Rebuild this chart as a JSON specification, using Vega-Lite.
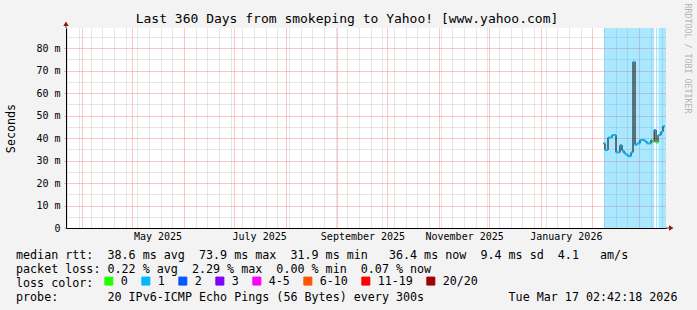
{
  "$schema": "https://vega.github.io/schema/vega-lite/v6.json",
  "width": 600,
  "height": 200,
  "autosize": {"type": "none"},
  "padding": {"left": 66, "top": 28, "right": 31, "bottom": 82},
  "background": "#f3f3f3",
  "config": {
    "view": {"stroke": null, "fill": "#ffffff"},
    "font": "DejaVu Sans Mono"
  },
  "title": {
    "text": "Last 360 Days from smokeping to Yahoo! [www.yahoo.com]",
    "font": "DejaVu Sans Mono",
    "fontSize": 13,
    "fontWeight": "normal",
    "color": "#000000",
    "anchor": "middle",
    "frame": "group",
    "dx": -19,
    "baseline": "alphabetic",
    "offset": -33
  },
  "datasets": {
    "median": [
      {"start": "2026-02-07T07:30:00Z", "end": "2026-02-08T12:18:00Z", "median_s": 0.0376, "loss": "1"},
      {"start": "2026-02-08T12:18:00Z", "end": "2026-02-10T07:30:00Z", "median_s": 0.0347, "loss": "1"},
      {"start": "2026-02-10T07:30:00Z", "end": "2026-02-12T17:06:00Z", "median_s": 0.0402, "loss": "1"},
      {"start": "2026-02-12T17:06:00Z", "end": "2026-02-15T02:42:00Z", "median_s": 0.0413, "loss": "1"},
      {"start": "2026-02-15T02:42:00Z", "end": "2026-02-17T12:18:00Z", "median_s": 0.0336, "loss": "1"},
      {"start": "2026-02-17T12:18:00Z", "end": "2026-02-18T17:06:00Z", "median_s": 0.0369, "loss": "1"},
      {"start": "2026-02-18T17:06:00Z", "end": "2026-02-19T21:54:00Z", "median_s": 0.0344, "loss": "1"},
      {"start": "2026-02-19T21:54:00Z", "end": "2026-02-21T02:42:00Z", "median_s": 0.0332, "loss": "1"},
      {"start": "2026-02-21T02:42:00Z", "end": "2026-02-22T07:30:00Z", "median_s": 0.0326, "loss": "1"},
      {"start": "2026-02-22T07:30:00Z", "end": "2026-02-24T02:42:00Z", "median_s": 0.0319, "loss": "1"},
      {"start": "2026-02-24T02:42:00Z", "end": "2026-02-25T07:30:00Z", "median_s": 0.0336, "loss": "1"},
      {"start": "2026-02-25T07:30:00Z", "end": "2026-02-26T12:18:00Z", "median_s": 0.0739, "loss": "1"},
      {"start": "2026-02-26T12:18:00Z", "end": "2026-02-27T17:06:00Z", "median_s": 0.0370, "loss": "1"},
      {"start": "2026-02-27T17:06:00Z", "end": "2026-03-01T12:18:00Z", "median_s": 0.0376, "loss": "1"},
      {"start": "2026-03-01T12:18:00Z", "end": "2026-03-04T12:18:00Z", "median_s": 0.0391, "loss": "1"},
      {"start": "2026-03-04T12:18:00Z", "end": "2026-03-05T17:06:00Z", "median_s": 0.0384, "loss": "1"},
      {"start": "2026-03-05T17:06:00Z", "end": "2026-03-08T02:42:00Z", "median_s": 0.0376, "loss": "1"},
      {"start": "2026-03-08T02:42:00Z", "end": "2026-03-08T17:06:00Z", "median_s": 0.0391, "loss": "1"},
      {"start": "2026-03-08T17:06:00Z", "end": "2026-03-10T00:47:00Z", "median_s": 0.0384, "loss": "0"},
      {"start": "2026-03-10T00:47:00Z", "end": "2026-03-11T02:42:00Z", "median_s": 0.0436, "loss": "1"},
      {"start": "2026-03-11T02:42:00Z", "end": "2026-03-12T07:30:00Z", "median_s": 0.0380, "loss": "0"},
      {"start": "2026-03-12T07:30:00Z", "end": "2026-03-14T02:42:00Z", "median_s": 0.0413, "loss": "1"},
      {"start": "2026-03-14T02:42:00Z", "end": "2026-03-15T07:30:00Z", "median_s": 0.0428, "loss": "1"},
      {"start": "2026-03-15T07:30:00Z", "end": "2026-03-16T12:18:00Z", "median_s": 0.0453, "loss": "1"}
    ],
    "band": [
      {"start": "2026-02-07T21:54:00Z", "end": "2026-03-10T00:47:00Z", "loss": "1"},
      {"start": "2026-03-11T02:42:00Z", "end": "2026-03-11T21:25:00Z", "loss": "1"},
      {"start": "2026-03-12T14:42:00Z", "end": "2026-03-17T02:42:00Z", "loss": "1"}
    ]
  },
  "layer": [
    {
      "layer": [
        {
          "data": {"name": "band"},
          "mark": {"type": "rect", "opacity": 0.33},
          "encoding": {
            "x": {
              "field": "start",
              "type": "temporal",
              "scale": {
                "type": "utc",
                "domain": [
                  {"year": 2025, "month": 3, "date": 22, "hours": 2, "minutes": 42, "seconds": 18, "utc": true},
                  {"year": 2026, "month": 3, "date": 17, "hours": 2, "minutes": 42, "seconds": 18, "utc": true}
                ]
              },
              "axis": {
                "values": [1742688000000,1743292800000,1743465600000,1743897600000,1744502400000,1745107200000,1745712000000,1746057600000,1746316800000,1746921600000,1747353600000,1747526400000,1748131200000,1748736000000,1749340800000,1749945600000,1750550400000,1751155200000,1751328000000,1751760000000,1752364800000,1752624000000,1752969600000,1753574400000,1754006400000,1754179200000,1754784000000,1755388800000,1755993600000,1756598400000,1756684800000,1757203200000,1757808000000,1757980800000,1758412800000,1759017600000,1759276800000,1759622400000,1760227200000,1760832000000,1761436800000,1761955200000,1762041600000,1762646400000,1763251200000,1763856000000,1764460800000,1764547200000,1765065600000,1765670400000,1766275200000,1766880000000,1767225600000,1767484800000,1768089600000,1768521600000,1768694400000,1769299200000,1769904000000,1770508800000,1771113600000,1771718400000,1772323200000,1772928000000,1773532800000],
                "grid": true,
                "gridColor": {"condition": {"test": "utcdate(datum.value) == 1", "value": "#ff8c8c"}, "value": "#cdcdcd"},
                "gridOpacity": {"condition": {"test": "utcdate(datum.value) != 1 && utcday(datum.value) != 0", "value": 0}, "value": 1},
                "gridDash": [1, 1],
                "gridWidth": 1,
                "ticks": false,
                "domain": true,
                "domainColor": "#000000",
                "domainWidth": 1,
                "labelExpr": "utcdate(datum.value) == 16 ? utcFormat(datum.value, '%B %Y') : ''",
                "labelFont": "DejaVu Sans Mono",
                "labelFontSize": 10,
                "labelColor": "#000000",
                "labelPadding": 3,
                "labelOverlap": false,
                "labelFlush": false,
                "labelBound": false,
                "labelAngle": 0,
                "title": [
                  "median\u00a0rtt:\u00a0\u00a038.6\u00a0ms\u00a0avg\u00a0\u00a073.9\u00a0ms\u00a0max\u00a0\u00a031.9\u00a0ms\u00a0min\u00a0\u00a0\u00a036.4\u00a0ms\u00a0now\u00a0\u00a09.4\u00a0ms\u00a0sd\u00a0\u00a04.1\u00a0\u00a0\u00a0am/s",
                  "packet\u00a0loss:\u00a00.22\u00a0%\u00a0avg\u00a0\u00a02.29\u00a0%\u00a0max\u00a0\u00a00.00\u00a0%\u00a0min\u00a0\u00a00.07\u00a0%\u00a0now",
                  "loss\u00a0color:",
                  "probe:\u00a0\u00a0\u00a0\u00a0\u00a0\u00a0\u00a020\u00a0IPv6-ICMP\u00a0Echo\u00a0Pings\u00a0(56\u00a0Bytes)\u00a0every\u00a0300s\u00a0\u00a0\u00a0\u00a0\u00a0\u00a0\u00a0\u00a0\u00a0\u00a0\u00a0\u00a0Tue\u00a0Mar\u00a017\u00a002:42:18\u00a02026"
                ],
                "titleFont": "DejaVu Sans Mono",
                "titleFontSize": 11.7,
                "titleFontWeight": "normal",
                "titleColor": "#000000",
                "titleAnchor": "start",
                "titleAlign": "left",
                "titleBaseline": "alphabetic",
                "titleX": -50.5,
                "titleY": 30.7,
                "titleLineHeight": 14
              }
            },
            "x2": {"field": "end"},
            "color": {
              "field": "loss",
              "type": "nominal",
              "scale": {
                "domain": ["0", "1", "2", "3", "4-5", "6-10", "11-19", "20/20"],
                "range": ["#26ff00", "#00b8ff", "#0059ff", "#7e00ff", "#ff00ff", "#ff5500", "#ff0000", "#a10000"]
              },
              "legend": {
                "title": null,
                "orient": "none",
                "legendX": 37,
                "legendY": 247,
                "direction": "horizontal",
                "labelFont": "DejaVu Sans Mono",
                "labelFontSize": 11.7,
                "labelColor": "#000000",
                "labelOffset": 6,
                "labelBaseline": "middle",
                "symbolType": "square",
                "symbolSize": 64,
                "symbolStrokeColor": "#000000",
                "symbolStrokeWidth": 1,
                "symbolOpacity": 1,
                "columnPadding": 11,
                "padding": 0,
                "offset": 0
              }
            }
          }
        },
        {
          "data": {"name": "median"},
          "mark": {"type": "line", "interpolate": "step-after", "color": "#000000", "strokeWidth": 1},
          "encoding": {
            "x": {
              "field": "start",
              "type": "temporal",
              "axis": {"values": [1742688000000,1743292800000,1743465600000,1743897600000,1744502400000,1745107200000,1745712000000,1746057600000,1746316800000,1746921600000,1747353600000,1747526400000,1748131200000,1748736000000,1749340800000,1749945600000,1750550400000,1751155200000,1751328000000,1751760000000,1752364800000,1752624000000,1752969600000,1753574400000,1754006400000,1754179200000,1754784000000,1755388800000,1755993600000,1756598400000,1756684800000,1757203200000,1757808000000,1757980800000,1758412800000,1759017600000,1759276800000,1759622400000,1760227200000,1760832000000,1761436800000,1761955200000,1762041600000,1762646400000,1763251200000,1763856000000,1764460800000,1764547200000,1765065600000,1765670400000,1766275200000,1766880000000,1767225600000,1767484800000,1768089600000,1768521600000,1768694400000,1769299200000,1769904000000,1770508800000,1771113600000,1771718400000,1772323200000,1772928000000,1773532800000]}
            },
            "y": {
              "field": "median_s",
              "type": "quantitative",
              "scale": {"domain": [0, 0.0888889], "nice": false, "zero": true},
              "axis": {
                "values": [0, 0.005, 0.01, 0.015, 0.02, 0.025, 0.03, 0.035, 0.04, 0.045, 0.05, 0.055, 0.06, 0.065, 0.07, 0.075, 0.08, 0.085],
                "grid": true,
                "gridColor": {"condition": {"test": "round(datum.value*1000) % 10 == 0", "value": "#ff8c8c"}, "value": "#cdcdcd"},
                "gridDash": [1, 1],
                "gridWidth": 1,
                "ticks": true,
                "tickSize": 2,
                "tickColor": "#ff8c8c",
                "tickOpacity": {"condition": {"test": "round(datum.value*1000) % 10 == 0", "value": 1}, "value": 0},
                "domain": true,
                "domainColor": "#000000",
                "labelExpr": "round(datum.value*1000) % 10 != 0 ? '' : (datum.value == 0 ? '0\u00a0\u00a0' : round(datum.value*1000) + '\u00a0m')",
                "labelFont": "DejaVu Sans Mono",
                "labelFontSize": 10,
                "labelColor": "#000000",
                "labelPadding": 4,
                "labelOverlap": false,
                "labelFlush": false,
                "labelBound": false,
                "title": "Seconds",
                "titleFont": "DejaVu Sans Mono",
                "titleFontSize": 11.7,
                "titleFontWeight": "normal",
                "titleColor": "#000000",
                "titleAngle": -90,
                "titleAlign": "center",
                "titleBaseline": "middle",
                "titleX": -55.5,
                "titleY": 100
              }
            }
          }
        },
        {
          "data": {"values": [{}]},
          "mark": {"type": "point", "shape": "M-0.5,0L-0.5,-2L-2.7,-2L0,-6.5L2.7,-2L0.5,-2L0.5,0Z", "size": 4, "filled": true, "color": "#8b1a1a", "opacity": 1, "strokeWidth": 0},
          "encoding": {
            "x": {
              "datum": {"year": 2025, "month": 3, "date": 22, "hours": 2, "minutes": 42, "seconds": 18, "utc": true},
              "type": "temporal",
              "axis": {"values": [1742688000000,1743292800000,1743465600000,1743897600000,1744502400000,1745107200000,1745712000000,1746057600000,1746316800000,1746921600000,1747353600000,1747526400000,1748131200000,1748736000000,1749340800000,1749945600000,1750550400000,1751155200000,1751328000000,1751760000000,1752364800000,1752624000000,1752969600000,1753574400000,1754006400000,1754179200000,1754784000000,1755388800000,1755993600000,1756598400000,1756684800000,1757203200000,1757808000000,1757980800000,1758412800000,1759017600000,1759276800000,1759622400000,1760227200000,1760832000000,1761436800000,1761955200000,1762041600000,1762646400000,1763251200000,1763856000000,1764460800000,1764547200000,1765065600000,1765670400000,1766275200000,1766880000000,1767225600000,1767484800000,1768089600000,1768521600000,1768694400000,1769299200000,1769904000000,1770508800000,1771113600000,1771718400000,1772323200000,1772928000000,1773532800000]}
            },
            "y": {
              "datum": 0.0888889,
              "type": "quantitative",
              "axis": {"values": [0, 0.005, 0.01, 0.015, 0.02, 0.025, 0.03, 0.035, 0.04, 0.045, 0.05, 0.055, 0.06, 0.065, 0.07, 0.075, 0.08, 0.085]}
            }
          }
        },
        {
          "data": {"values": [{}]},
          "mark": {"type": "point", "shape": "M0,-0.5L3,-0.5L3,-2.7L7.5,0L3,2.7L3,0.5L0,0.5Z", "size": 4, "filled": true, "color": "#8b1a1a", "opacity": 1, "strokeWidth": 0},
          "encoding": {
            "x": {
              "datum": {"year": 2026, "month": 3, "date": 17, "hours": 2, "minutes": 42, "seconds": 18, "utc": true},
              "type": "temporal",
              "axis": {"values": [1742688000000,1743292800000,1743465600000,1743897600000,1744502400000,1745107200000,1745712000000,1746057600000,1746316800000,1746921600000,1747353600000,1747526400000,1748131200000,1748736000000,1749340800000,1749945600000,1750550400000,1751155200000,1751328000000,1751760000000,1752364800000,1752624000000,1752969600000,1753574400000,1754006400000,1754179200000,1754784000000,1755388800000,1755993600000,1756598400000,1756684800000,1757203200000,1757808000000,1757980800000,1758412800000,1759017600000,1759276800000,1759622400000,1760227200000,1760832000000,1761436800000,1761955200000,1762041600000,1762646400000,1763251200000,1763856000000,1764460800000,1764547200000,1765065600000,1765670400000,1766275200000,1766880000000,1767225600000,1767484800000,1768089600000,1768521600000,1768694400000,1769299200000,1769904000000,1770508800000,1771113600000,1771718400000,1772323200000,1772928000000,1773532800000]}
            },
            "y": {
              "datum": 0,
              "type": "quantitative",
              "axis": {"values": [0, 0.005, 0.01, 0.015, 0.02, 0.025, 0.03, 0.035, 0.04, 0.045, 0.05, 0.055, 0.06, 0.065, 0.07, 0.075, 0.08, 0.085]}
            }
          }
        }
      ]
    },
    {
      "data": {"name": "median"},
      "mark": {"type": "rule", "strokeWidth": 2, "strokeCap": "butt"},
      "encoding": {
        "x": {
          "field": "start",
          "type": "temporal",
          "axis": {"values": [1742688000000,1743292800000,1743465600000,1743897600000,1744502400000,1745107200000,1745712000000,1746057600000,1746316800000,1746921600000,1747353600000,1747526400000,1748131200000,1748736000000,1749340800000,1749945600000,1750550400000,1751155200000,1751328000000,1751760000000,1752364800000,1752624000000,1752969600000,1753574400000,1754006400000,1754179200000,1754784000000,1755388800000,1755993600000,1756598400000,1756684800000,1757203200000,1757808000000,1757980800000,1758412800000,1759017600000,1759276800000,1759622400000,1760227200000,1760832000000,1761436800000,1761955200000,1762041600000,1762646400000,1763251200000,1763856000000,1764460800000,1764547200000,1765065600000,1765670400000,1766275200000,1766880000000,1767225600000,1767484800000,1768089600000,1768521600000,1768694400000,1769299200000,1769904000000,1770508800000,1771113600000,1771718400000,1772323200000,1772928000000,1773532800000]}
        },
        "x2": {"field": "end"},
        "y": {
          "field": "median_s",
          "type": "quantitative",
          "scale": {"domain": [0, 0.0888889], "nice": false, "zero": true},
          "axis": {
            "orient": "right",
            "labels": false,
            "ticks": false,
            "domain": false,
            "grid": false,
            "title": "RRDTOOL\u00a0/\u00a0TOBI\u00a0OETIKER",
            "titleFont": "DejaVu Sans Mono",
            "titleFontSize": 8.3,
            "titleFontWeight": "normal",
            "titleColor": "#b4b4b4",
            "titleAngle": 90,
            "titleAlign": "left",
            "titleBaseline": "middle",
            "titleX": 20.5,
            "titleY": -25
          }
        },
        "color": {
          "field": "loss",
          "type": "nominal",
          "scale": {
            "domain": ["0", "1", "2", "3", "4-5", "6-10", "11-19", "20/20"],
            "range": ["#26ff00", "#00b8ff", "#0059ff", "#7e00ff", "#ff00ff", "#ff5500", "#ff0000", "#a10000"]
          },
          "legend": null
        }
      }
    }
  ],
  "resolve": {"scale": {"y": "independent"}}
}
